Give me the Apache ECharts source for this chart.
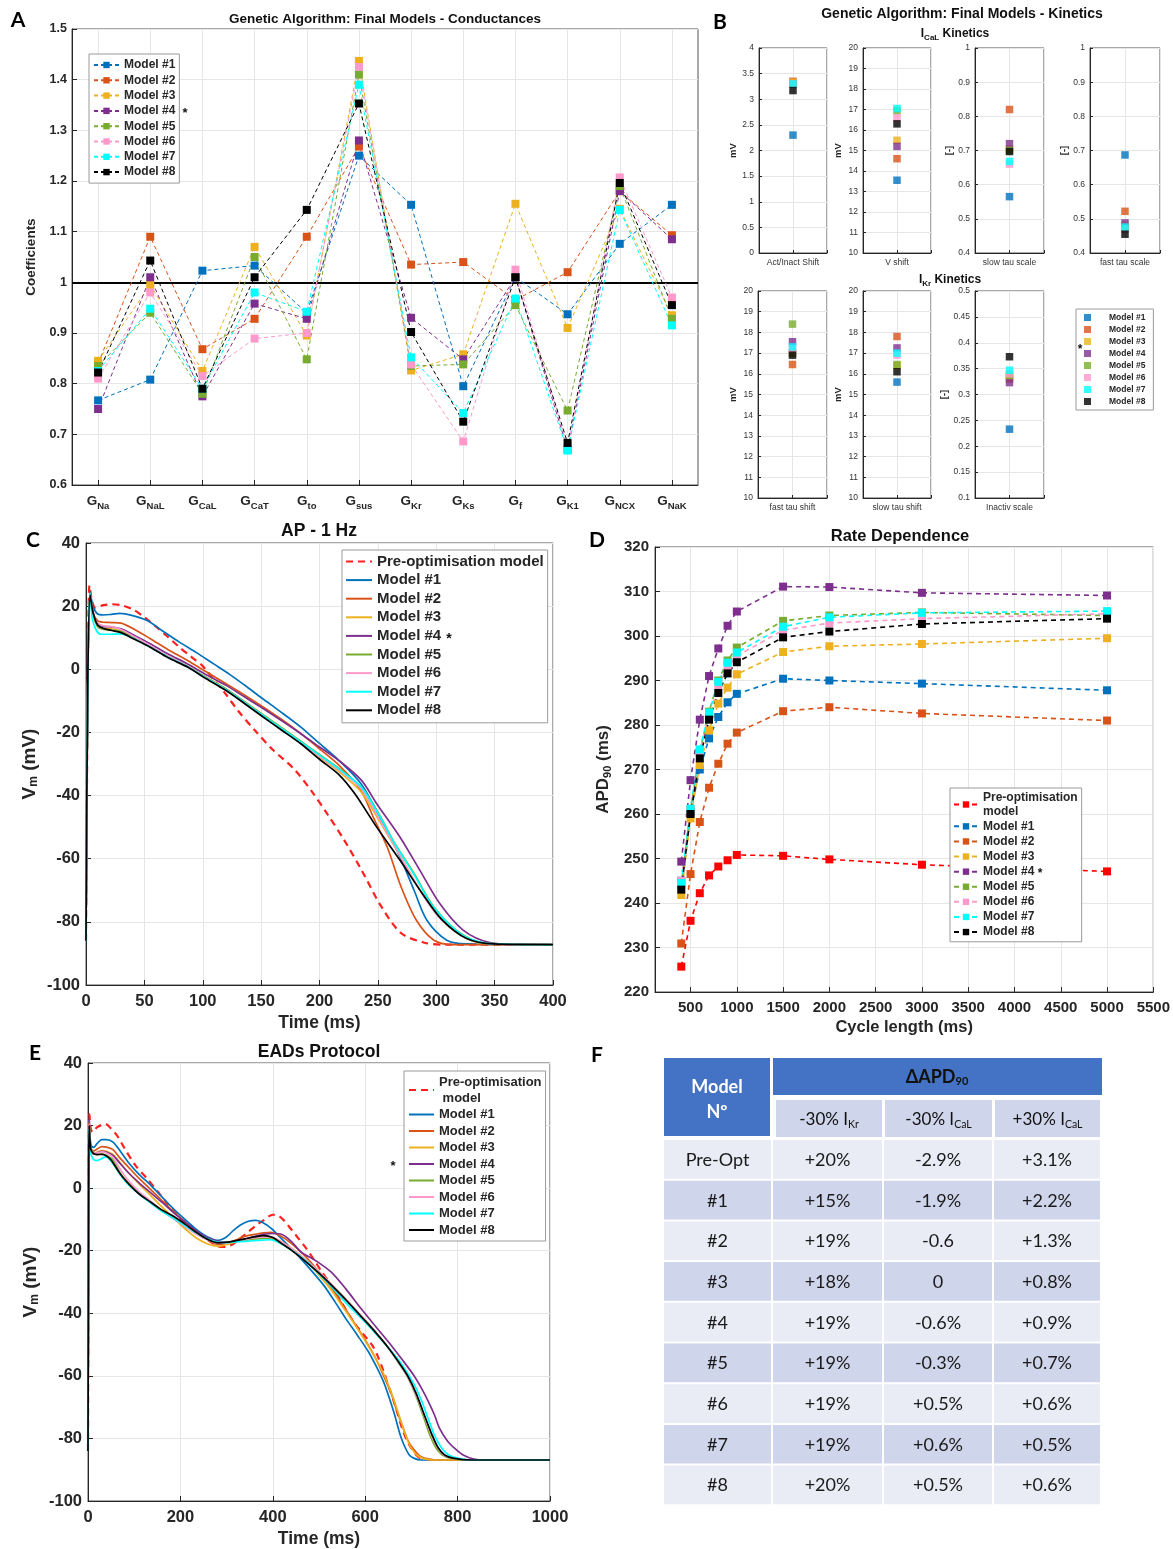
<!DOCTYPE html>
<html><head><meta charset="utf-8">
<script src="https://cdn.jsdelivr.net/npm/echarts@6/dist/echarts.min.js"></script>
<style>html,body{margin:0;padding:0;background:#fff}#c{width:1173px;height:1549px}</style>
</head><body><div id="c"></div>
<script>
// ---------------- DATA ----------------
const modelNames = ['Model #1','Model #2','Model #3','Model #4','Model #5','Model #6','Model #7','Model #8'];
const preOptName = 'Pre-optimisation model';

// Panel A: conductance coefficients
const conductanceSubs = ['Na','NaL','CaL','CaT','to','sus','Kr','Ks','f','K1','NCX','NaK'];
const condM1 = [0.767, 0.808, 1.023, 1.033, 0.940, 1.250, 1.153, 0.795, 1.010, 0.937, 1.076, 1.153];
const condM2 = [0.840, 1.090, 0.868, 0.928, 1.090, 1.268, 1.035, 1.040, 0.965, 1.020, 1.180, 1.093];
const condM3 = [0.845, 0.995, 0.825, 1.070, 0.895, 1.437, 0.826, 0.858, 1.155, 0.910, 1.145, 0.935];
const condM4 = [0.750, 1.010, 0.775, 0.958, 0.928, 1.280, 0.930, 0.848, 1.010, 0.670, 1.180, 1.085];
const condM5 = [0.835, 0.940, 0.780, 1.050, 0.848, 1.410, 0.835, 0.838, 0.955, 0.747, 1.190, 0.928];
const condM6 = [0.810, 0.980, 0.815, 0.889, 0.900, 1.425, 0.838, 0.686, 1.025, 0.675, 1.207, 0.970];
const condM7 = [0.825, 0.948, 0.790, 0.980, 0.942, 1.390, 0.852, 0.742, 0.968, 0.668, 1.143, 0.915];
const condM8 = [0.822, 1.043, 0.790, 1.010, 1.143, 1.353, 0.902, 0.725, 1.010, 0.683, 1.196, 0.955];
const condReference = 1;

// Panel B: kinetics parameters (Model #1..#8)
const kinParamLabels = ['Act/Inact Shift','V shift','slow tau scale','fast tau scale','fast tau shift','slow tau shift','Inactiv scale'];
const icalActInactShift = [2.30, 3.35, 3.33, 3.30, 3.30, 3.30, 3.30, 3.17];
const icalVShift        = [13.55, 14.6, 15.5, 15.2, 16.95, 16.6, 17.05, 16.3];
const icalSlowTauScale  = [0.565, 0.820, 0.705, 0.720, 0.700, 0.660, 0.668, 0.697];
const icalFastTauScale  = [0.687, 0.522, 0.480, 0.488, 0.470, 0.470, 0.476, 0.455];
const ikrFastTauShift   = [17.0, 16.45, 17.0, 17.55, 18.4, 17.2, 17.3, 16.9];
const ikrSlowTauShift   = [15.6, 17.8, 16.4, 17.25, 16.45, 16.9, 17.0, 16.1];
const ikrInactivScale   = [0.233, 0.330, 0.335, 0.323, 0.337, 0.340, 0.347, 0.373];

// Panel C: AP at 1 Hz  [time ms, Vm mV]
const apPre = [[0,-86],[1.5,-5],[3,26.5],[5,22],[8,19.5],[15,20.3],[22,20.6],[30,20.3],[40,19],[50,16.5],[60,13.5],[70,10.3],[80,7],[90,4],[100,1],[110,-3.5],[120,-8],[130,-13],[145,-19.5],[160,-25.5],[178,-31.5],[194,-39],[207,-46],[221,-54],[236,-63.6],[253,-75.2],[270,-83.6],[290,-86.6],[307,-87.2],[400,-87.2]];
const apM1 = [[0,-86],[1.5,-5],[3.5,24.5],[6,20],[10,17.5],[15,17.2],[22,17.4],[29,17.7],[40,17],[52,15.5],[65,12.3],[80,8.6],[95,5.2],[109,1.8],[123,-1.6],[138,-5.6],[152,-9.5],[165,-13],[184,-18.3],[200,-23.5],[217,-29],[236,-36.5],[253,-47.8],[269,-59.5],[281,-70],[292,-79.5],[309,-85.8],[326,-87],[400,-87.2]];
const apM2 = [[0,-86],[1.5,-5],[3.5,24],[6,18],[10,15.3],[15,14.9],[22,14.8],[30,14.6],[42,12.5],[55,9.7],[70,6.3],[87,2.8],[103,-0.8],[120,-4.6],[136,-8.2],[152,-12],[168,-16],[184,-20.4],[200,-25.2],[217,-30.5],[235,-38],[246,-46.8],[258,-56.3],[270,-69],[283,-79.5],[298,-85.8],[315,-87.2],[400,-87.2]];
const apM3 = [[0,-86],[1.5,-5],[3.5,24],[6,17.5],[10,14],[15,13],[22,12.8],[30,12.2],[42,10],[55,7.3],[70,4.2],[87,1],[103,-2.6],[120,-6.3],[136,-10.5],[152,-14.7],[168,-18.8],[184,-23],[200,-27.8],[217,-32.5],[236,-39],[252,-48.5],[269,-59],[286,-69.8],[303,-78.5],[320,-84],[340,-86.8],[400,-87.2]];
const apM4 = [[0,-86],[1.5,-5],[3.5,24],[6,18],[10,14.5],[15,13.6],[22,13.4],[30,12.8],[42,10.6],[55,8.1],[70,4.9],[87,1.7],[103,-1.7],[120,-5.1],[136,-8.8],[152,-12.5],[168,-16.4],[184,-20.4],[200,-24.6],[217,-29],[236,-35.2],[249,-42.6],[269,-53.2],[286,-63.7],[303,-74.2],[323,-82.6],[346,-86.6],[370,-87.2],[400,-87.2]];
const apM5 = [[0,-86],[1.5,-5],[3.5,24],[6,17.5],[10,13.5],[15,12.6],[22,12.4],[30,12],[42,9.7],[55,7.2],[70,4],[87,1],[103,-2.6],[120,-6.2],[136,-10.3],[152,-14.5],[168,-18.6],[184,-22.8],[200,-27],[217,-31.5],[236,-37.5],[252,-46.5],[263,-54.2],[281,-64.7],[298,-75.3],[321,-83.7],[343,-86.8],[400,-87.2]];
const apM6 = [[0,-86],[1.5,-5],[3.5,24],[6,17.5],[10,14.5],[15,13.8],[22,13.5],[30,12.6],[42,10.2],[55,7.5],[70,4.2],[87,1],[103,-2.8],[120,-6.5],[136,-10.6],[152,-14.8],[168,-19],[184,-23.2],[200,-27.6],[217,-32],[236,-38],[252,-48],[269,-59],[286,-70],[303,-78.8],[326,-85],[349,-87],[400,-87.2]];
const apM7 = [[0,-86],[1.5,-5],[3.5,24],[5.5,16],[9,12.2],[13,11.1],[20,11.1],[28,11.2],[36,10.6],[55,7],[70,3.9],[87,0.8],[103,-2.8],[120,-6.5],[136,-10.6],[152,-14.8],[168,-18.9],[184,-23],[200,-27.2],[217,-31.7],[236,-37.4],[252,-46.8],[263,-54.4],[281,-65],[298,-75.5],[321,-83.8],[343,-86.8],[400,-87.2]];
const apM8 = [[0,-86],[1.5,-5],[3.5,23.5],[6,18],[10,14],[15,12.9],[22,12.3],[30,11.6],[42,9.4],[55,7],[70,3.7],[87,0.7],[103,-3],[120,-6.7],[136,-10.9],[152,-15.2],[168,-19.4],[184,-23.6],[200,-28.5],[217,-33.5],[230,-39.3],[249,-50],[269,-60.5],[288,-71],[305,-79.4],[326,-85.3],[349,-87],[400,-87.2]];

// Panel D: rate dependence
const cycleLengths = [400, 500, 600, 700, 800, 900, 1000, 1500, 2000, 3000, 5000];
const cycleTicks = [500,1000,1500,2000,2500,3000,3500,4000,4500,5000,5500];
const apdPre = [225.7, 236.0, 242.2, 246.2, 248.2, 249.6, 250.8, 250.6, 249.8, 248.6, 247.1];
const apdM1 = [245.0, 260.5, 270.0, 277.0, 281.8, 285.1, 287.0, 290.4, 290.0, 289.3, 287.8];
const apdM2 = [230.9, 246.5, 258.2, 265.9, 271.3, 275.8, 278.3, 283.1, 284.0, 282.6, 281.0];
const apdM3 = [241.8, 259.0, 271.0, 278.8, 284.8, 288.4, 291.4, 296.4, 297.7, 298.2, 299.5];
const apdM4 = [249.3, 267.6, 281.2, 291.0, 297.2, 302.3, 305.5, 311.1, 311.0, 309.7, 309.1];
const apdM5 = [244.0, 261.0, 274.0, 283.0, 290.0, 294.5, 297.4, 303.4, 304.6, 305.3, 304.6];
const apdM6 = [245.0, 261.0, 274.0, 282.0, 288.8, 293.0, 295.5, 301.3, 302.9, 303.9, 305.0];
const apdM7 = [244.5, 261.2, 274.5, 282.8, 289.7, 294.0, 296.3, 302.1, 304.2, 305.2, 305.6];
const apdM8 = [243.0, 260.0, 272.5, 281.2, 287.2, 291.6, 294.1, 299.7, 301.0, 302.7, 303.9];

// Panel E: EADs protocol [time ms, Vm mV]
const eadPre = [[0,-84],[1.5,0],[3,23.7],[6,19],[10,17.9],[20,19.5],[38,20.5],[50,19],[63,16.8],[80,12.5],[103,7.2],[128,3],[152,-1.3],[172,-5],[193,-8.7],[213,-11.5],[233,-14],[250,-15.8],[266,-17.2],[286,-18.8],[300,-18.7],[315,-17.8],[330,-16],[347,-14],[363,-12],[380,-10.3],[400,-8.5],[412,-8.8],[424,-10.3],[438,-12.8],[453,-15.6],[470,-18.8],[485,-22],[505,-26.5],[526,-31],[550,-36.8],[575,-42.8],[595,-46.5],[615,-50.2],[628,-54],[640,-58.7],[650,-63],[660,-67.2],[670,-72],[680,-76.8],[690,-80.5],[700,-83.2],[710,-85.2],[721,-86.4],[750,-86.9],[1000,-86.9]];
const eadM1 = [[0,-84],[1.5,0],[2.5,22],[6,14],[12,13],[20,14.3],[30,15.5],[40,15.5],[54,14.7],[70,11.8],[87,8.3],[110,4.5],[136,0.9],[160,-2.8],[185,-6.6],[210,-10],[233,-13],[258,-15.5],[282,-16.7],[298,-15.8],[315,-13.5],[330,-11.8],[347,-10.6],[363,-10.3],[376,-10.8],[388,-11.9],[400,-13.3],[412,-15.1],[436,-18.8],[461,-22.6],[485,-26.6],[510,-31],[534,-36.2],[558,-41.7],[583,-47],[607,-52.3],[624,-57],[640,-62],[652,-67],[664,-72.6],[676,-79],[684,-82.1],[695,-85.2],[705,-86.3],[720,-86.9],[1000,-86.9]];
const eadM2 = [[0,-84],[1.5,0],[2.5,21],[6,13],[12,11.8],[20,12.5],[30,13.3],[40,13.1],[54,12.3],[70,9.5],[87,6.8],[110,3.2],[136,-0.5],[160,-4],[185,-7.5],[210,-10.8],[233,-13.8],[258,-16.3],[282,-18.1],[300,-17.6],[320,-16.6],[339,-15.4],[360,-14.8],[380,-14.3],[396,-14.1],[412,-15],[428,-16.3],[452,-19.2],[477,-22.8],[501,-27],[526,-31.6],[550,-37],[575,-42.8],[600,-48.5],[623,-54.5],[640,-60],[656,-65.5],[668,-71],[680,-75.7],[692,-80.5],[705,-83.5],[720,-85.8],[737,-86.6],[760,-86.9],[1000,-86.9]];
const eadM3 = [[0,-84],[1.5,0],[2.5,20.5],[6,12.5],[12,11],[20,11.5],[30,12],[40,11.8],[54,10.8],[70,8],[87,5],[110,1.4],[136,-2.4],[160,-6],[185,-9.5],[210,-13],[233,-15.8],[258,-17.8],[282,-18.6],[300,-18],[320,-17.2],[340,-16.7],[360,-16.3],[380,-16.1],[396,-16],[412,-16.7],[428,-18],[452,-20.5],[477,-24],[501,-28],[526,-32.5],[550,-37.6],[575,-43],[600,-48.8],[623,-54.6],[642,-60],[658,-66],[672,-72],[684,-77.5],[696,-82],[708,-84.8],[724,-86.3],[745,-86.9],[1000,-86.9]];
const eadM4 = [[0,-84],[1.5,0],[2.5,20.5],[6,12.5],[12,11],[20,11.3],[30,11.8],[40,11.5],[54,10.5],[70,7.8],[87,5],[110,1.8],[136,-1.5],[160,-4.5],[185,-7.8],[210,-10.8],[233,-13.5],[258,-15.8],[282,-17],[300,-17.2],[320,-17],[340,-16.3],[360,-15.5],[380,-14.8],[400,-14.5],[420,-14.8],[440,-17],[461,-20.4],[493,-23.2],[526,-26.8],[558,-32.2],[591,-38.5],[623,-44.3],[656,-50.2],[680,-54.8],[705,-59.8],[722,-64],[737,-68.3],[750,-72.5],[761,-76.8],[778,-80.8],[794,-83.2],[812,-85.3],[835,-86.6],[860,-86.9],[1000,-86.9]];
const eadM5 = [[0,-84],[1.5,0],[2.5,20],[6,12.5],[12,11],[20,10.8],[30,11],[40,10.5],[54,9],[70,4.8],[87,1.6],[110,-1.6],[136,-4.6],[160,-7.3],[185,-9.6],[210,-12.1],[233,-14.4],[258,-16.4],[282,-17.4],[300,-17.4],[320,-17],[340,-16.6],[360,-16.2],[380,-16],[400,-16.3],[420,-17.6],[440,-19.4],[470,-22.8],[500,-26.8],[530,-31.2],[560,-35.8],[591,-40.8],[620,-45.5],[650,-51],[672,-55.8],[692,-60.5],[710,-66.5],[726,-73],[740,-79],[753,-83],[766,-85.2],[785,-86.3],[820,-86.9],[1000,-86.9]];
const eadM6 = [[0,-84],[1.5,0],[2.5,20.5],[6,12.5],[12,11.2],[20,11.3],[30,11.6],[40,11.2],[54,9.8],[70,6],[87,2.5],[110,-1],[136,-4.2],[160,-7.2],[185,-9.8],[210,-12.4],[233,-14.6],[258,-16.5],[282,-17.6],[300,-17.5],[320,-17],[340,-16.4],[360,-15.9],[380,-15.6],[400,-15.8],[420,-17.3],[440,-19.3],[470,-22.8],[500,-26.8],[530,-31.2],[560,-35.8],[591,-40.8],[620,-45.6],[650,-51],[672,-55.6],[692,-60.3],[710,-66],[728,-72.8],[744,-79],[757,-83],[770,-85.3],[790,-86.3],[830,-86.9],[1000,-86.9]];
const eadM7 = [[0,-84],[1.5,0],[2.5,19],[5,12],[10,9.5],[18,8.8],[28,9.3],[38,10],[50,8.6],[70,4.3],[87,1.2],[110,-1.8],[136,-4.8],[160,-7.4],[185,-9.6],[210,-12],[233,-14.2],[258,-16.2],[282,-17.3],[300,-17.4],[320,-17.2],[340,-17],[360,-16.8],[380,-16.6],[395,-16.5],[410,-17.2],[430,-18.8],[452,-21],[477,-24],[501,-27.6],[526,-31.3],[558,-36.6],[591,-41.5],[623,-46.5],[656,-52],[680,-56.5],[705,-62.5],[722,-68],[737,-74],[750,-79],[765,-83],[780,-85.2],[800,-86.3],[830,-86.9],[1000,-86.9]];
const eadM8 = [[0,-84],[1.5,0],[2.5,20],[6,12.5],[12,11],[20,10.7],[30,10.8],[40,10.3],[50,9],[70,4.5],[87,1.5],[110,-1.8],[136,-4.5],[160,-7],[185,-9],[210,-11.5],[233,-14],[258,-16.3],[282,-17.5],[300,-17.3],[320,-16.8],[340,-16.2],[360,-15.6],[380,-15.2],[400,-15.8],[420,-17.8],[440,-19.8],[470,-23.3],[500,-27.2],[530,-31.5],[560,-36],[591,-41],[620,-45.7],[650,-51],[672,-55.5],[692,-60],[710,-65.5],[728,-72.5],[745,-79],[758,-83],[772,-85.3],[790,-86.3],[830,-86.9],[1000,-86.9]];

// Panel F: table
const tableRowLabels = ['Pre-Opt','#1','#2','#3','#4','#5','#6','#7','#8'];
const tableColHeads = [['-30% I','Kr'],['-30% I','CaL'],['+30% I','CaL']];
const dApdIKrMinus30  = ['+20%','+15%','+19%','+18%','+19%','+19%','+19%','+19%','+20%'];
const dApdICaLMinus30 = ['-2.9%','-1.9%','-0.6','0','-0.6%','-0.3%','+0.5%','+0.6%','+0.5%'];
const dApdICaLPlus30  = ['+3.1%','+2.2%','+1.3%','+0.8%','+0.9%','+0.7%','+0.6%','+0.5%','+0.6%'];

// ---------------- STYLE / LAYOUT ----------------
const modelColors = ['#0072BD','#D95319','#EDB120','#7E2F8E','#77AC30','#FF99CC','#00FFFF','#000000'];
const preOptColor = '#FF2020';
const FONT = '"Liberation Sans", Arial, Helvetica, sans-serif';
const TFONT = 'Lato, "Open Sans", sans-serif';
const AXC = '#262626';
const GRIDC = '#e6e6e6';

const condSets = [condM1,condM2,condM3,condM4,condM5,condM6,condM7,condM8];
const kinSets = [icalActInactShift, icalVShift, icalSlowTauScale, icalFastTauScale, ikrFastTauShift, ikrSlowTauShift, ikrInactivScale];
const apSets = [apM1,apM2,apM3,apM4,apM5,apM6,apM7,apM8];
const apdSets = [apdM1,apdM2,apdM3,apdM4,apdM5,apdM6,apdM7,apdM8];
const eadSets = [eadM1,eadM2,eadM3,eadM4,eadM5,eadM6,eadM7,eadM8];

const kinLayout = [
  {left:759, top:48, width:68, height:205, min:0, max:4, interval:0.5, unit:'mV'},
  {left:863, top:48, width:68, height:205, min:10, max:20, interval:1, unit:'mV'},
  {left:975, top:48, width:69, height:205, min:0.4, max:1, interval:0.1, unit:'[-]'},
  {left:1090, top:48, width:70, height:205, min:0.4, max:1, interval:0.1, unit:'[-]'},
  {left:758, top:291, width:69, height:207, min:10, max:20, interval:1, unit:'mV'},
  {left:863, top:291, width:68, height:207, min:10, max:20, interval:1, unit:'mV'},
  {left:975, top:291, width:69, height:207, min:0.1, max:0.5, interval:0.05, unit:'[-]'}
];

const grids = [
  {left:72, top:29, width:626, height:456},
  ...kinLayout.map(L => ({left:L.left, top:L.top, width:L.width, height:L.height})),
  {left:86, top:543, width:467, height:442},
  {left:655, top:547, width:499, height:445},
  {left:88, top:1063, width:462, height:439}
].map(g => Object.assign({show:true, borderColor:'#555', borderWidth:1, backgroundColor:'#fff'}, g));

function baseAxis(gridIndex, fs, fw, extra) {
  return Object.assign({
    type:'value', gridIndex,
    axisLine:{show:true, onZero:false, lineStyle:{color:AXC, width:1}},
    axisTick:{show:true, inside:true, length:5, lineStyle:{color:AXC}},
    axisLabel:{color:AXC, fontSize:fs, fontWeight:fw, fontFamily:FONT},
    splitLine:{show:true, lineStyle:{color:GRIDC, width:1}},
    nameTextStyle:{color:AXC, fontFamily:FONT}
  }, extra);
}
function deepMerge(a, b) {
  for (const k in b) {
    if (b[k] && typeof b[k] === 'object' && !Array.isArray(b[k]) && a[k] && typeof a[k] === 'object') deepMerge(a[k], b[k]);
    else a[k] = b[k];
  }
  return a;
}
const subRich = (big, small, shift, fw) => ({
  a:{fontSize:big, fontWeight:fw, fontFamily:FONT, color:AXC},
  b:{fontSize:small, fontWeight:fw, fontFamily:FONT, color:AXC, padding:[shift,0,0,0]}
});
const plainNum = v => String(v);

const condIdx = conductanceSubs.map((_, i) => i);

const xAxes = [
  deepMerge(baseAxis(0, 12, 'bold'), {
    min:-0.5, max:11.5,
    axisTick:{customValues:condIdx, length:5},
    axisLabel:{customValues:condIdx, margin:7, formatter: v => '{a|G}{b|' + conductanceSubs[v] + '}', rich: subRich(13.5, 9.5, 9, 'bold')}
  }),
  ...kinLayout.map((L, i) => deepMerge(baseAxis(1 + i, 8.5, 'normal'), {
    min:0, max:2, interval:1,
    axisTick:{length:3},
    axisLabel:{margin:5, color:'#333', formatter: v => (v === 1 ? kinParamLabels[i] : '')}
  })),
  deepMerge(baseAxis(8, 16.5, 'bold'), {min:0, max:400, interval:50, axisLabel:{margin:8, formatter:plainNum},
    name:'Time (ms)', nameLocation:'middle', nameGap:29, nameTextStyle:{fontSize:17.5, fontWeight:'bold'}}),
  deepMerge(baseAxis(9, 15, 'bold'), {min:116, max:5500,
    axisTick:{customValues:cycleTicks}, axisLabel:{customValues:cycleTicks, margin:8, formatter:plainNum},
    name:'Cycle length (ms)', nameLocation:'middle', nameGap:27, nameTextStyle:{fontSize:16.5, fontWeight:'bold'}}),
  deepMerge(baseAxis(10, 16.5, 'bold'), {min:0, max:1000, interval:200, axisLabel:{margin:8, formatter:plainNum},
    name:'Time (ms)', nameLocation:'middle', nameGap:29, nameTextStyle:{fontSize:17.5, fontWeight:'bold'}})
];

const yAxes = [
  deepMerge(baseAxis(0, 12.5, 'bold'), {min:0.6, max:1.5, interval:0.1, axisLabel:{margin:5},
    name:'Coefficients', nameLocation:'middle', nameGap:28, nameTextStyle:{fontSize:13.5, fontWeight:'bold'}}),
  ...kinLayout.map((L, i) => deepMerge(baseAxis(1 + i, 8.5, 'normal'), {
    min:L.min, max:L.max, interval:L.interval,
    axisTick:{length:3},
    axisLabel:{margin:5, color:'#333'},
    name:L.unit, nameLocation:'middle', nameGap: (L.unit === 'mV' ? 20 : 19), nameTextStyle:{fontSize:9.5, fontWeight:'bold'}
  })),
  deepMerge(baseAxis(8, 16.5, 'bold'), {min:-100, max:40, interval:20, axisLabel:{margin:6},
    name:'{a|V}{b|m}{a| (mV)}', nameLocation:'middle', nameGap:46, nameTextStyle:{rich: subRich(19, 12, 9, 'bold')}}),
  deepMerge(baseAxis(9, 15, 'bold'), {min:220, max:320, interval:10, axisLabel:{margin:6},
    name:'{a|APD}{b|90}{a| (ms)}', nameLocation:'middle', nameGap:42, nameTextStyle:{rich: subRich(17, 11, 8, 'bold')}}),
  deepMerge(baseAxis(10, 16.5, 'bold'), {min:-100, max:40, interval:20, axisLabel:{margin:6},
    name:'{a|V}{b|m}{a| (mV)}', nameLocation:'middle', nameGap:47, nameTextStyle:{rich: subRich(19, 12, 9, 'bold')}})
];

// ---------------- SERIES ----------------
const series = [];
const common = {animation:false, silent:true, emphasis:{disabled:true}};

condSets.forEach((vals, k) => {
  const s = Object.assign({
    name:'A|' + modelNames[k], type:'line', xAxisIndex:0, yAxisIndex:0,
    data: vals.map((v, i) => [condIdx[i], v]),
    symbol:'rect', symbolSize:8, showSymbol:true, z:3,
    lineStyle:{color:modelColors[k], width:1, type:[4,3]},
    itemStyle:{color:modelColors[k]}
  }, common);
  if (k === 0) {
    s.markLine = {silent:true, symbol:'none', label:{show:false}, animation:false,
      lineStyle:{color:'#000', width:2, type:'solid'}, data:[{yAxis:condReference}], z:2};
  }
  series.push(s);
});

kinSets.forEach((vals, p) => {
  vals.forEach((v, k) => {
    series.push(Object.assign({
      name:(p === 0 ? 'B|' : 'B' + p + '|') + modelNames[k], type:'scatter',
      xAxisIndex:1 + p, yAxisIndex:1 + p,
      data:[[1, v]], symbol:'rect', symbolSize:7.5,
      itemStyle:{color:modelColors[k]}
    }, common));
  });
});

function curveSeries(prefix, axis, preData, sets) {
  series.push(Object.assign({
    name:prefix + '|' + preOptName, type:'line', xAxisIndex:axis, yAxisIndex:axis,
    data:preData, symbol:'none', smooth:0.3,
    lineStyle:{color:preOptColor, width:2.2, type:[7,5]}, itemStyle:{color:preOptColor}, z:2
  }, common));
  sets.forEach((d, k) => series.push(Object.assign({
    name:prefix + '|' + modelNames[k], type:'line', xAxisIndex:axis, yAxisIndex:axis,
    data:d, symbol:'none', smooth:0.3,
    lineStyle:{color:modelColors[k], width:1.7}, itemStyle:{color:modelColors[k]}, z:3
  }, common)));
}
curveSeries('C', 8, apPre, apSets);

series.push(Object.assign({
  name:'D|' + preOptName, type:'line', xAxisIndex:9, yAxisIndex:9,
  data:cycleLengths.map((c, i) => [c, apdPre[i]]),
  symbol:'rect', symbolSize:8, lineStyle:{color:'#FF0000', width:1.6, type:[5,4]}, itemStyle:{color:'#FF0000'}
}, common));
apdSets.forEach((vals, k) => series.push(Object.assign({
  name:'D|' + modelNames[k], type:'line', xAxisIndex:9, yAxisIndex:9,
  data:cycleLengths.map((c, i) => [c, vals[i]]),
  symbol:'rect', symbolSize:8, lineStyle:{color:modelColors[k], width:1.6, type:[5,4]}, itemStyle:{color:modelColors[k]}
}, common)));

curveSeries('E', 10, eadPre, eadSets);

// ---------------- LEGENDS ----------------
const stripName = n => n.split('|')[1];
const legendBase = (o) => Object.assign({
  orient:'vertical', selectedMode:false, borderColor:'#9a9a9a', borderWidth:1, backgroundColor:'#fff'
}, o);
const legends = [
  legendBase({left:89, top:54, data:modelNames.map(n => 'A|' + n), formatter:stripName,
    itemWidth:25, itemHeight:8, itemGap:3.3, padding:[5,4,5,4],
    textStyle:{color:AXC, fontWeight:'bold', fontFamily:FONT, fontSize:12}}),
  legendBase({left:1076, top:309, data:modelNames.map(n => 'B|' + n), formatter:stripName,
    itemWidth:7, itemHeight:7, itemGap:3, padding:[4,8,4,8],
    textStyle:{color:AXC, fontWeight:'bold', fontFamily:FONT, fontSize:8.5, padding:[0,0,0,13]}}),
  legendBase({left:342, top:550, data:['C|' + preOptName, ...modelNames.map(n => 'C|' + n)], formatter:stripName,
    itemWidth:26, itemHeight:10, itemGap:3.6, padding:[4,4,5,3], itemStyle:{opacity:0},
    textStyle:{color:AXC, fontWeight:'bold', fontFamily:FONT, fontSize:15}}),
  legendBase({left:950, top:788, data:['D|' + preOptName, ...modelNames.map(n => 'D|' + n)],
    formatter: n => (stripName(n) === preOptName ? 'Pre-optimisation\nmodel' : stripName(n)),
    itemWidth:24, itemHeight:8, itemGap:1.6, padding:[3,4,3,3],
    textStyle:{color:AXC, fontWeight:'bold', fontFamily:FONT, fontSize:12, lineHeight:13.5}}),
  legendBase({left:404, top:1071, data:['E|' + preOptName, ...modelNames.map(n => 'E|' + n)],
    formatter: n => (stripName(n) === preOptName ? 'Pre-optimisation\n model' : stripName(n)),
    itemWidth:25, itemHeight:10, itemGap:0.5, padding:[3,4,3,4], itemStyle:{opacity:0},
    textStyle:{color:AXC, fontWeight:'bold', fontFamily:FONT, fontSize:13, lineHeight:16}})
];

// ---------------- GRAPHIC TEXT / TABLE ----------------
const graphic = [];
function txt(x, y, text, o) {
  graphic.push({type:'text', x, y, silent:true, z:50, style:Object.assign({
    text, align:'center', verticalAlign:'middle', textAlign:'center', textVerticalAlign:'middle',
    fill:'#111', fontFamily:FONT, fontSize:13, fontWeight:'bold'}, o || {})});
}
// panel letters
[['A',18,20],['B',720,22],['C',33,540],['D',597,540],['E',35,1053],['F',597,1055]]
  .forEach(([l, x, y]) => txt(x, y, l, {fontFamily:TFONT, fontSize:21, fontWeight:'bold', fill:'#000'}));
// titles
txt(385, 19, 'Genetic Algorithm: Final Models - Conductances', {fontSize:13.5});
txt(962, 14, 'Genetic Algorithm: Final Models - Kinetics', {fontSize:14});
txt(955, 34, '{a|I}{b|CaL}{a| Kinetics}', {rich:subRich(12, 8, 7, 'bold')});
txt(950, 280, '{a|I}{b|Kr}{a| Kinetics}', {rich:subRich(12, 8, 7, 'bold')});
txt(319, 531, 'AP - 1 Hz', {fontSize:17.5});
txt(900, 536, 'Rate Dependence', {fontSize:16.5});
txt(319, 1052, 'EADs Protocol', {fontSize:17.5});
// asterisks marking Model #4
txt(185, 113, '*', {fontSize:13});
txt(1080, 350, '*', {fontSize:12});
txt(449, 639, '*', {fontSize:14});
txt(1040, 874, '*', {fontSize:12});
txt(393, 1166, '*', {fontSize:13});

// table F
const TX = [664, 773, 884, 994, 1102];
const headBlue = '#4472C4', rowLight = '#E9EBF5', rowDark = '#CFD5EA';
function rect(x, y, w, h, fill) {
  graphic.push({type:'rect', silent:true, z:40, shape:{x, y, width:w, height:h}, style:{fill}});
}
rect(664, 1058, 106, 78, headBlue);
txt(717, 1087, 'Model', {fontFamily:TFONT, fontSize:18, fill:'#fff'});
txt(717, 1112, 'Nº', {fontFamily:TFONT, fontSize:18, fill:'#fff'});
rect(773, 1058, 329, 37, headBlue);
txt(937, 1077, '{a|ΔAPD}{b|90}', {rich:{
  a:{fontFamily:TFONT, fontSize:18, fontWeight:'bold', color:'#fff'},
  b:{fontFamily:TFONT, fontSize:11, fontWeight:'bold', color:'#fff', padding:[9,0,0,0]}}});
tableColHeads.forEach((h, c) => {
  const x0 = TX[c + 1] + (c === 0 ? 3 : 1), x1 = TX[c + 2] - 2;
  rect(x0, 1100, x1 - x0, 37, rowDark);
  txt((x0 + x1) / 2, 1120, '{a|' + h[0] + '}{b|' + h[1] + '}', {rich:{
    a:{fontFamily:TFONT, fontSize:17, color:'#222'},
    b:{fontFamily:TFONT, fontSize:10.5, color:'#222', padding:[9,0,0,0]}}});
});
const tableCols = [tableRowLabels, dApdIKrMinus30, dApdICaLMinus30, dApdICaLPlus30];
tableRowLabels.forEach((_, r) => {
  const y = 1140 + r * 40.7;
  tableCols.forEach((col, c) => {
    rect(TX[c], y, TX[c + 1] - TX[c] - 2, 38.7, r % 2 ? rowDark : rowLight);
    txt((TX[c] + TX[c + 1] - 2) / 2, y + 20, col[r], {fontFamily:TFONT, fontSize:18, fontWeight:'normal', fill:'#1a1a1a'});
  });
});

// ---------------- RENDER ----------------
const chart = echarts.init(document.getElementById('c'), null, {renderer:'canvas', width:1173, height:1549});
chart.setOption({
  animation:false,
  backgroundColor:'#fff',
  grid:grids,
  xAxis:xAxes,
  yAxis:yAxes,
  legend:legends,
  series,
  graphic
});
</script>
</body></html>
